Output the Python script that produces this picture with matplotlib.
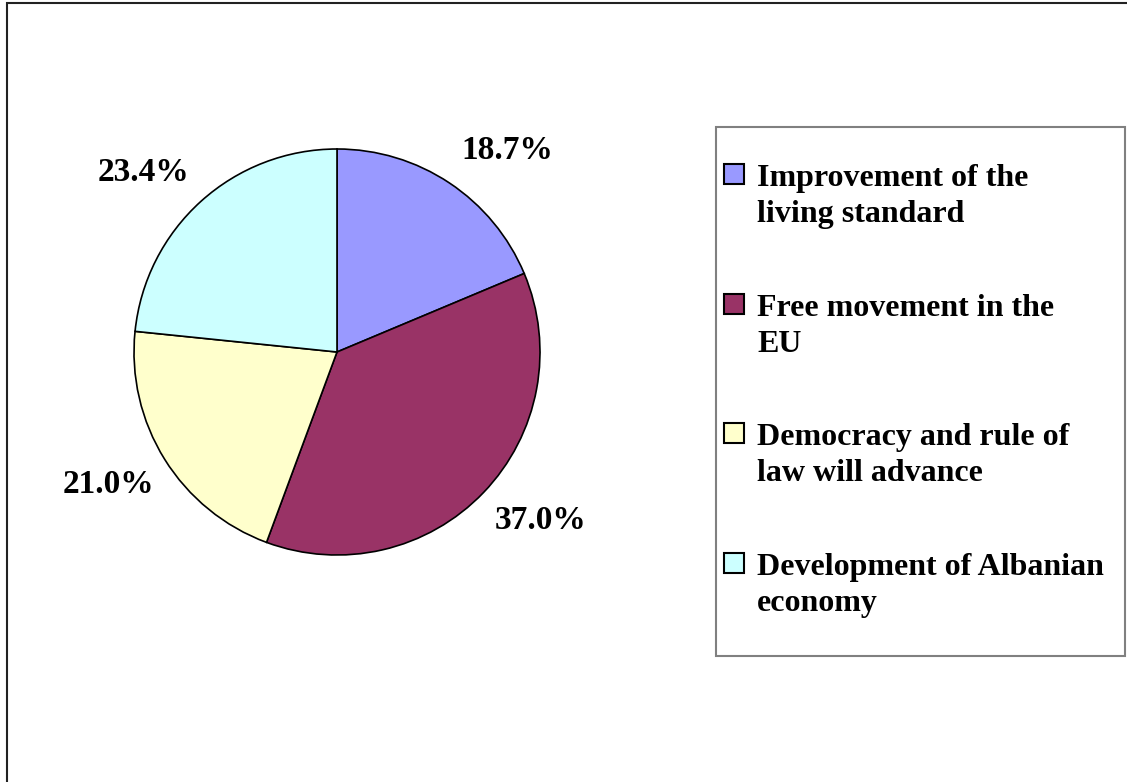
import matplotlib
matplotlib.use("Agg")
import matplotlib.pyplot as plt
from matplotlib.patches import Rectangle
import numpy as np

# Survey shares (percent), drawn clockwise from 12 o'clock
categories = [
    "Improvement of the\nliving standard",
    "Free movement in the\nEU",
    "Democracy and rule of\nlaw will advance",
    "Development of Albanian\neconomy",
]
shares = [18.7, 37.0, 21.0, 23.4]
colors = ["#9999FF", "#993366", "#FFFFCC", "#CCFFFF"]

W, H = 1127, 782
fig = plt.figure(figsize=(W / 100, H / 100), dpi=100)
fig.patch.set_facecolor("white")


def fx(px):
    return px / W


def fy(py):
    return 1 - py / H


FONT = "Liberation Serif"

# outer chart frame (runs off the right and bottom edges)
fig.add_artist(Rectangle((fx(7), fy(790)), fx(1135 - 7), fy(3) - fy(790),
                         transform=fig.transFigure, fill=False,
                         edgecolor="#222222", linewidth=1.5))

# pie axes: centre (337, 352) px, radius 203 px
cx, cy, r = 337, 352, 203
ax = fig.add_axes([fx(cx - r), fy(cy + r), fx(2 * r), fy(cy - r) - fy(cy + r)])
wedges, _ = ax.pie(shares, colors=colors, startangle=90, counterclock=False,
                   radius=1.0,
                   wedgeprops=dict(edgecolor="black", linewidth=1.2))
ax.set_xlim(-1, 1)
ax.set_ylim(-1, 1)
ax.set_aspect("equal")
ax.axis("off")

# percentage labels outside each wedge
label_radius = 1.30
angle_nudge = [-6.5, 4.1, -1.9, 5.1]
for w, v, nd in zip(wedges, shares, angle_nudge):
    mid = 0.5 * (w.theta1 + w.theta2) + nd
    x = label_radius * np.cos(np.radians(mid))
    y = label_radius * np.sin(np.radians(mid))
    ax.text(x, y, f"{v:.1f}%", ha="center", va="center",
            fontsize=24, fontweight="bold", family=FONT, clip_on=False)

# legend box
fig.add_artist(Rectangle((fx(716), fy(656)), fx(1125 - 716), fy(127) - fy(656),
                         transform=fig.transFigure, fill=True,
                         facecolor="white", edgecolor="#808080",
                         linewidth=1.5))
base0, step, line_gap = 186, 129.5, 36
for i, (lab, c) in enumerate(zip(categories, colors)):
    b = base0 + i * step
    fig.add_artist(Rectangle((fx(724), fy(b - 2)), fx(20), fy(b - 22) - fy(b - 2),
                             transform=fig.transFigure, facecolor=c,
                             edgecolor="black", linewidth=1.5))
    for j, line in enumerate(lab.split("\n")):
        fig.text(fx(757), fy(b + j * line_gap), line, ha="left", va="baseline",
                 fontsize=23, fontweight="bold", family=FONT)

fig.savefig("out.png", dpi=100, facecolor="white")
